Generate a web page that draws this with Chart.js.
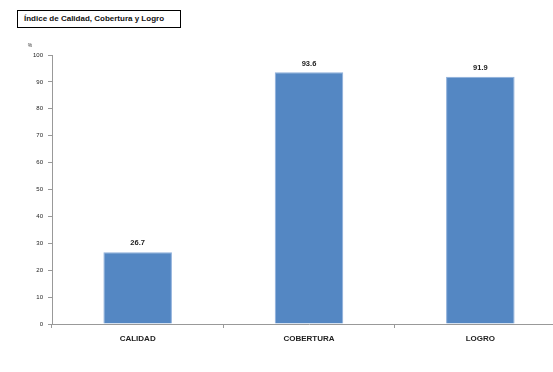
<!DOCTYPE html>
<html>
<head>
<meta charset="utf-8">
<script src="https://cdn.jsdelivr.net/npm/chart.js@4/dist/chart.umd.min.js"></script>
<style>
  html, body { margin: 0; padding: 0; background: #fff; overflow: hidden; }
  #wrap { position: relative; width: 566px; height: 372px; }
  #titulo {
    position: absolute; left: 17px; top: 10px; width: 164px; height: 18px;
    border: 1px solid #000; box-sizing: border-box;
    font: bold 8px "Liberation Sans", Arial, sans-serif; line-height: 16px;
    padding-left: 6px; color: #111; background: #fff; z-index: 2;
  }
</style>
</head>
<body>
<div id="wrap">
  <div id="titulo">Índice de Calidad, Cobertura y Logro</div>
  <canvas id="grafico" width="566" height="372"></canvas>
</div>
<script>
const categorias = ['CALIDAD', 'COBERTURA', 'LOGRO'];
const valores = [26.7, 93.6, 91.9];
const yMin = 0;
const yMax = 100;
const yPaso = 10;

const etiquetasValor = {
    id: 'etiquetasValor',
    afterDatasetsDraw(chart) {
        const ctx = chart.ctx;
        const meta = chart.getDatasetMeta(0);
        ctx.save();
        ctx.font = 'bold 7.5px "Liberation Sans", Arial, sans-serif';
        ctx.fillStyle = '#222';
        ctx.textAlign = 'center';
        ctx.textBaseline = 'bottom';
        meta.data.forEach((bar, i) => {
            ctx.fillText(valores[i].toFixed(1), bar.x, bar.y - 5);
        });
        // marca de unidad sobre el eje
        const y = chart.scales.y;
        ctx.font = '5px "Liberation Sans", Arial, sans-serif';
        ctx.fillStyle = '#333';
        ctx.fillText('%', y.right - 22, y.top - 7);
        ctx.restore();
    }
};

const ctx = document.getElementById('grafico').getContext('2d');
new Chart(ctx, {
    type: 'bar',
    data: {
        labels: categorias,
        datasets: [{
            data: valores,
            backgroundColor: '#5487C3',
            borderColor: '#8DAEDA',
            borderWidth: 1,
            barPercentage: 0.8,
            categoryPercentage: 0.5
        }]
    },
    options: {
        responsive: false,
        animation: false,
        layout: { padding: { top: 55, right: 0, bottom: 0, left: 0 } },
        plugins: {
            legend: { display: false },
            tooltip: { enabled: false }
        },
        scales: {
            x: {
                grid: {
                    display: true,
                    offset: true,
                    drawOnChartArea: false,
                    drawTicks: true,
                    tickLength: 4,
                    color: '#999'
                },
                border: { color: '#999', width: 1 },
                ticks: {
                    color: '#222',
                    font: { family: '"Liberation Sans", Arial, sans-serif', size: 8, weight: 'bold' },
                    padding: 6
                },
                afterFit(scale) { scale.height = 48; }
            },
            y: {
                min: yMin,
                max: yMax,
                grid: {
                    display: true,
                    drawOnChartArea: false,
                    drawTicks: true,
                    tickLength: 4,
                    color: '#999'
                },
                border: { color: '#999', width: 1 },
                ticks: {
                    stepSize: yPaso,
                    color: '#222',
                    font: { family: '"Liberation Sans", Arial, sans-serif', size: 6 },
                    padding: 5
                },
                afterFit(scale) { scale.width = 52; }
            }
        }
    },
    plugins: [etiquetasValor]
});
</script>
</body>
</html>
